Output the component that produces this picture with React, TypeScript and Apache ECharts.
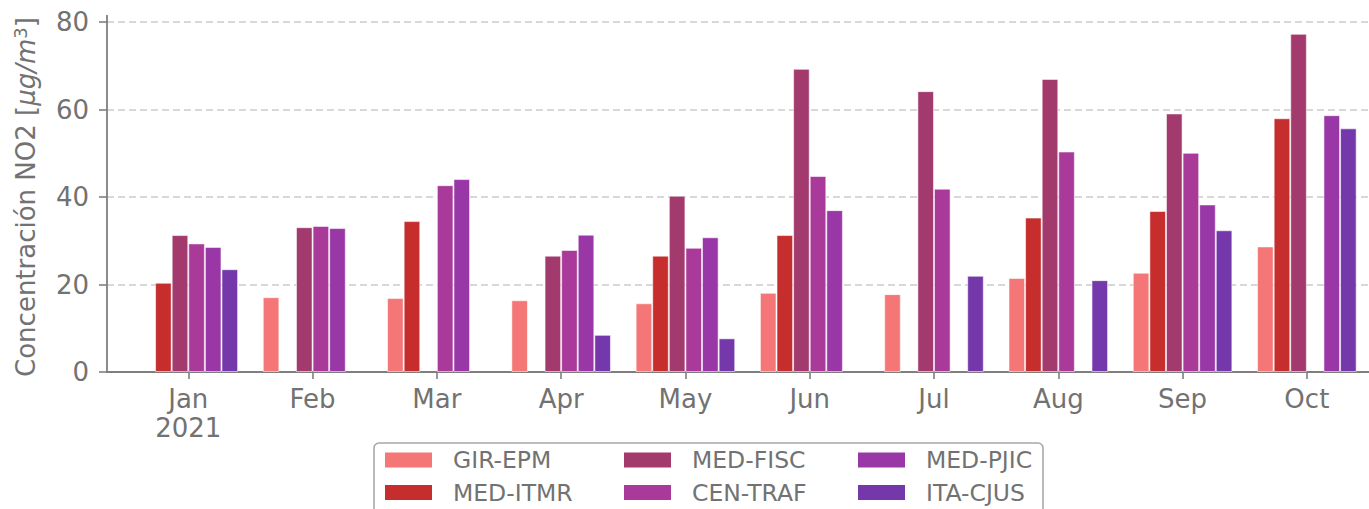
import React, { useEffect, useRef } from "react";
import * as echarts from "echarts";

const monthLabels = ["Jan\n2021", "Feb", "Mar", "Apr", "May", "Jun", "Jul", "Aug", "Sep", "Oct"];
const monthIndex = [0, 1, 2, 3, 4, 5, 6, 7, 8, 9];
const yTicks = [0, 20, 40, 60, 80];

const seriesNames = ["GIR-EPM", "MED-ITMR", "MED-FISC", "CEN-TRAF", "MED-PJIC", "ITA-CJUS"];
const seriesColors = ["#F47676", "#C62D2D", "#A33A6E", "#A93A99", "#9937A7", "#7438AB"];

const girEpm = [null, 17.1, 16.9, 16.4, 15.7, 18.1, 17.8, 21.5, 22.7, 28.7];
const medItmr = [20.4, null, 34.5, null, 26.6, 31.3, null, 35.3, 36.8, 58.0];
const medFisc = [31.3, 33.1, null, 26.6, 40.3, 69.3, 64.2, 67.0, 59.1, 77.3];
const cenTraf = [29.4, 33.4, 42.7, 27.9, 28.4, 44.8, 41.9, 50.4, 50.1, null];
const medPjic = [28.6, 32.9, 44.1, 31.4, 30.8, 37.0, null, null, 38.3, 58.7];
const itaCjus = [23.5, null, null, 8.5, 7.7, null, 22.0, 21.0, 32.4, 55.7];

const seriesValues = [girEpm, medItmr, medFisc, cenTraf, medPjic, itaCjus];

const TEXT = "#727272";
const AXIS = "#7f7f7f";
const FONT = "DejaVu Sans";

export default function App() {
  const ref = useRef<HTMLDivElement>(null);
  useEffect(() => {
    if (!ref.current) return;
    const chart = echarts.init(ref.current, undefined, { renderer: "svg" });
    const legendText = {
      color: TEXT,
      fontFamily: FONT,
      fontSize: 23.5,
      lineHeight: 24,
      padding: [0, 0, 0, 16],
    };
    const mkLegend = (data: string[], left: number) => ({
      orient: "vertical",
      left,
      top: 448,
      padding: 0,
      itemGap: 8.5,
      itemWidth: 47,
      itemHeight: 15,
      icon: "rect",
      selectedMode: false,
      itemStyle: { borderWidth: 0 },
      textStyle: legendText,
      data,
    });
    chart.setOption({
      animation: false,
      backgroundColor: "#ffffff",
      textStyle: { fontFamily: FONT },
      grid: { left: 107, right: 0, top: 22, bottom: 137 },
      xAxis: {
        type: "value",
        min: -0.654,
        max: 9.5,
        axisLine: { show: true, onZero: false, lineStyle: { color: AXIS, width: 1.8 } },
        axisTick: { show: true, customValues: monthIndex, length: 7, lineStyle: { color: AXIS, width: 1.6 } },
        axisLabel: {
          customValues: monthIndex,
          formatter: (v: number) => monthLabels[Math.round(v)] ?? "",
          color: TEXT,
          fontFamily: FONT,
          fontSize: 26,
          lineHeight: 29,
          margin: 12,
        },
        splitLine: { show: false },
      },
      yAxis: {
        type: "value",
        min: 0,
        max: 80,
        interval: 20,
        axisLine: { show: true, onZero: false, lineStyle: { color: AXIS, width: 1.8 } },
        axisTick: { show: true, length: 8, lineStyle: { color: AXIS, width: 1.6 } },
        axisLabel: {
          color: TEXT,
          fontFamily: FONT,
          fontSize: 26,
          margin: 18,
          formatter: (v: number) => (yTicks.includes(v) ? String(v) : ""),
        },
        splitLine: { show: true, lineStyle: { color: "#cbcbcb", type: [7, 4], width: 1.5 } },
        name: "{n|Concentración NO2 [}{i|μg/m}{s|3}{n|]}",
        nameLocation: "middle",
        nameGap: 66,
        nameTextStyle: {
          color: TEXT,
          fontFamily: FONT,
          fontSize: 26,
          rich: {
            n: { color: TEXT, fontFamily: FONT, fontSize: 26, lineHeight: 30 },
            i: { color: TEXT, fontFamily: FONT, fontSize: 26, fontStyle: "italic", lineHeight: 30 },
            s: { color: TEXT, fontFamily: FONT, fontSize: 18, lineHeight: 30, verticalAlign: "top", padding: [0, 0, 12, 0] },
          },
        },
      },
      legend: [
        mkLegend([seriesNames[0], seriesNames[1]], 385),
        mkLegend([seriesNames[2], seriesNames[3]], 624),
        mkLegend([seriesNames[4], seriesNames[5]], 858),
      ],
      graphic: [
        {
          type: "rect",
          z: 1,
          shape: { x: 374, y: 443, width: 669, height: 90, r: 5 },
          style: { fill: "#ffffff", stroke: "#a8a8a8", lineWidth: 1.6 },
        },
        {
          type: "line",
          z: 2,
          shape: { x1: 107, y1: 15, x2: 107, y2: 23 },
          style: { stroke: AXIS, lineWidth: 1.8 },
        },
      ],
      series: seriesNames.map((name, k) => ({
        name,
        type: "bar",
        barWidth: 16.6,
        barGap: "0%",
        itemStyle: {
          color: seriesColors[k],
          borderColor: "rgba(255,255,255,0.55)",
          borderWidth: 1,
        },
        data: monthIndex.map((i) => [i, seriesValues[k][i] == null ? "-" : seriesValues[k][i]]),
      })),
    });
    return () => chart.dispose();
  }, []);
  return (
    <div
      ref={ref}
      style={{ position: "fixed", left: 0, top: 0, width: 1369, height: 509 }}
    />
  );
}
